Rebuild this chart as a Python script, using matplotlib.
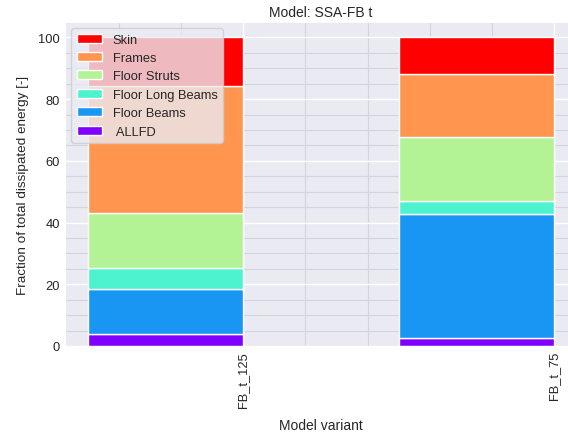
import numpy as np
import matplotlib
matplotlib.use("Agg")
import matplotlib.pyplot as plt
import seaborn as sns

sns.set_style("darkgrid")
plt.rcParams['font.family'] = ['Liberation Sans', 'DejaVu Sans']

# data
variants = ['FB_t_125', 'FB_t_75']
components = [' ALLFD', 'Floor Beams', 'Floor Long Beams', 'Floor Struts', 'Frames', 'Skin']
allfd = [3.9, 2.6]
floor_beams = [14.5, 40.3]
floor_long_beams = [6.8, 4.0]
floor_struts = [17.8, 20.7]
frames = [41.2, 20.6]
skin = [15.8, 11.8]

series = [allfd, floor_beams, floor_long_beams, floor_struts, frames, skin]
colors = plt.cm.rainbow(np.linspace(0, 1, len(series)))

fig = plt.figure(figsize=(5.68, 4.35), dpi=100)
ax = fig.add_axes([65 / 568, 1 - 347 / 435, 512 / 568, 324 / 435])

x = np.arange(len(variants))
bottom = np.zeros(len(variants))
for vals, lab, c in zip(series, components, colors):
    ax.bar(x, vals, width=-0.5, align='edge', bottom=bottom, color=c,
           edgecolor='white', linewidth=1, label=lab)
    bottom += np.array(vals)

ax.set_xticks(x)
ax.set_xticklabels(variants, rotation=90)
ax.minorticks_on()
ax.grid(which='minor', color='#d4d4dc', linewidth=0.8)
ax.grid(which='major', color='white', linewidth=1)
ax.tick_params(which='both', length=0, labelsize=9.3)
ax.set_xlim(-0.575, 1.075)
ax.set_ylim(0, 105)

ax.set_xlabel('Model variant', fontsize=10, labelpad=8)
ax.set_ylabel('Fraction of total dissipated energy [-]', fontsize=9.7, labelpad=7)
ax.set_title('Model: SSA-FB t', fontsize=10, pad=4.5)

h, l = ax.get_legend_handles_labels()
ax.legend(h[::-1], l[::-1], loc='upper left', fontsize=9.25)

fig.savefig('out.png', dpi=100)
